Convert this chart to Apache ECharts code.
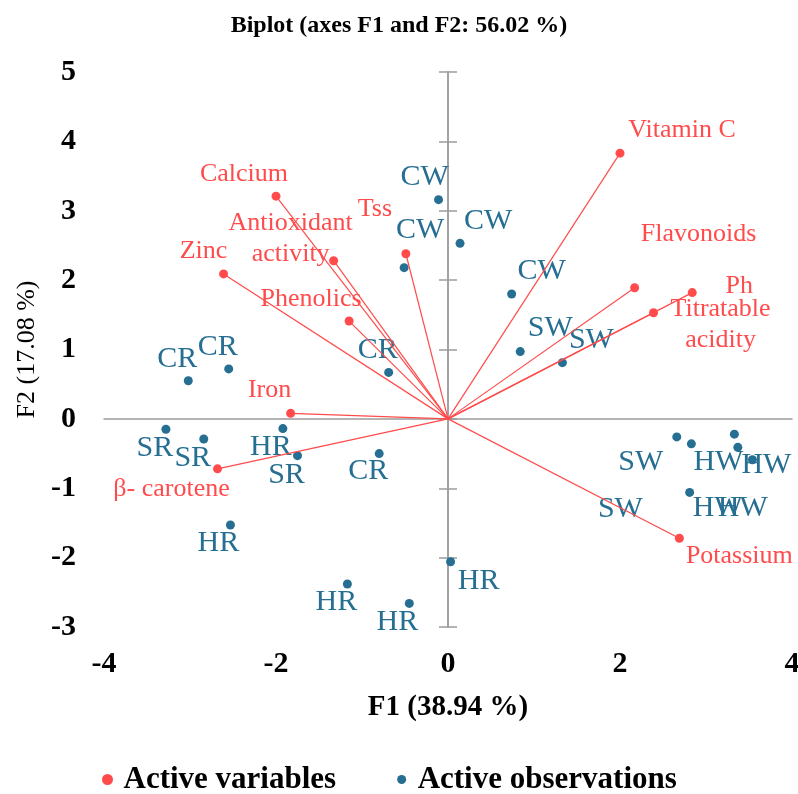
<html>
<head>
<meta charset="utf-8">
<script type="text/javascript" src="https://cdn.jsdelivr.net/npm/echarts@6.0.0/dist/echarts.min.js"></script>
<style type="text/css">
	body { margin: 0; }
	#biplot { width: 798px; height: 794px; }
</style>
<title>Biplot</title>
</head>
<body>
<div id="biplot"></div>
<script type="text/javascript">

// active variables (loadings scaled into F1/F2 space)
var varNames = ['Vitamin C', 'Flavonoids', 'Ph', 'Titratable\nacidity', 'Potassium', 'Calcium',
	'Antioxidant\nactivity', 'Tss', 'Phenolics', 'Zinc', 'Iron', 'β- carotene'];
var varF1 = [2.00, 2.17, 2.84, 2.39, 2.69, -2.00, -1.33, -0.49, -1.15, -2.61, -1.83, -2.68];
var varF2 = [3.83, 1.89, 1.82, 1.53, -1.72, 3.21, 2.28, 2.38, 1.41, 2.09, 0.08, -0.72];

// active observations
var obsNames = ['CR', 'CR', 'CR', 'SR', 'SR', 'HR', 'SR', 'CR', 'HR', 'HR', 'HR', 'HR',
	'CW', 'CW', 'CW', 'CW', 'SW', 'SW', 'SW', 'SW', 'HW', 'HW', 'HW', 'HW'];
var obsF1 = [-3.02, -2.55, -0.69, -3.28, -2.84, -1.92, -1.75, -0.80, -2.53, -1.17, -0.45, 0.03,
	-0.11, 0.14, -0.51, 0.74, 0.84, 1.33, 2.66, 2.83, 3.33, 3.37, 3.54, 2.81];
var obsF2 = [0.55, 0.72, 0.67, -0.15, -0.29, -0.14, -0.53, -0.50, -1.53, -2.38, -2.66, -2.06,
	3.16, 2.53, 2.18, 1.80, 0.97, 0.81, -0.26, -0.36, -0.22, -0.41, -0.59, -1.06];

// label placement (pixels from the point), layout only
var varLabelOffset = [[62, -23], [64, -54], [47, -6], [67, 12], [60, 18], [-32, -22],
	[-43, -22], [-31, -45], [-38, -22], [-20, -23], [-21, -23], [-46, 20]];
var obsLabelOffset = [[-11, -22], [-11, -22], [-11, -22], [-11, 19], [-11, 19], [-12, 19],
	[-11, 19], [-11, 18], [-12, 18], [-11, 18], [-12, 19], [28, 19],
	[-14, -23], [28, -22], [16, -38], [30, -23], [30, -23], [29, -23],
	[-36, 25], [-71, 65], [-16, 28], [5, 61], [14, 5], [28, 16]];

var RED = '#ff4b4b';
var BLUE = '#266f93';
var AXIS = '#9c9c9c';
var SERIF = 'Liberation Serif';

function showBiplot() {
	let varData = [];
	let varLines = [];
	for (let i = 0; i < varNames.length; i++) {
		varData.push({
			name: varNames[i],
			value: [varF1[i], varF2[i]],
			label: { offset: varLabelOffset[i] }
		});
		varLines.push({ coords: [[0, 0], [varF1[i], varF2[i]]] });
	}
	let obsData = [];
	for (let i = 0; i < obsNames.length; i++) {
		obsData.push({
			name: obsNames[i],
			value: [obsF1[i], obsF2[i]],
			label: { offset: obsLabelOffset[i] }
		});
	}

	let option = {
		animation: false,
		title: {
			text: 'Biplot (axes F1 and F2: 56.02 %)',
			left: 'center',
			top: 14,
			padding: 0,
			textStyle: { fontFamily: SERIF, fontWeight: 'bold', fontSize: 24, color: '#000' }
		},
		legend: {
			left: 102,
			top: 764,
			padding: 0,
			itemWidth: 22,
			itemHeight: 9,
			itemGap: 61,
			data: [
				{ name: 'Active variables', icon: 'circle' },
				{ name: 'Active observations', icon: 'circle' }
			],
			textStyle: { fontFamily: SERIF, fontWeight: 'bold', fontSize: 31, color: '#000' }
		},
		grid: {
			left: 104, right: 6, top: 72, bottom: 167,
			containLabel: false,
			outerBoundsMode: 'none'
		},
		xAxis: [
			{
				type: 'value', min: -4, max: 4, interval: 2,
				axisLine: { show: false }, axisTick: { show: false }, splitLine: { show: false },
				axisLabel: { margin: 22, fontFamily: SERIF, fontWeight: 'bold', fontSize: 30, color: '#000' },
				name: 'F1 (38.94 %)', nameLocation: 'middle', nameGap: 66,
				nameTextStyle: { fontFamily: SERIF, fontWeight: 'bold', fontSize: 29, color: '#000' }
			},
			{
				type: 'value', min: -4, max: 4, interval: 2, position: 'bottom',
				axisLine: { show: true, onZero: true, onZeroAxisIndex: 0, lineStyle: { color: AXIS, width: 1.5 } },
				axisTick: { show: false }, axisLabel: { show: false }, splitLine: { show: false }
			}
		],
		yAxis: [
			{
				type: 'value', min: -3, max: 5, interval: 1,
				axisLine: { show: false }, axisTick: { show: false }, splitLine: { show: false },
				axisLabel: { margin: 28, fontFamily: SERIF, fontWeight: 'bold', fontSize: 30, color: '#000' },
				name: 'F2 (17.08 %)', nameLocation: 'middle', nameGap: 63, nameRotate: 90,
				nameTextStyle: { fontFamily: SERIF, fontSize: 26, color: '#000' }
			},
			{
				type: 'value', min: -3, max: 5, interval: 1, position: 'left',
				axisLine: { show: true, onZero: true, onZeroAxisIndex: 0, lineStyle: { color: AXIS, width: 1.5 } },
				axisTick: { show: true, inside: true, length: 9, lineStyle: { color: AXIS, width: 1.5 } },
				axisLabel: { show: false }, splitLine: { show: false }
			},
			{
				type: 'value', min: -3, max: 5, interval: 1, position: 'left',
				axisLine: { show: true, onZero: true, onZeroAxisIndex: 0, lineStyle: { color: AXIS, width: 1.5 } },
				axisTick: { show: true, inside: false, length: 9, lineStyle: { color: AXIS, width: 1.5 } },
				axisLabel: { show: false }, splitLine: { show: false }
			}
		],
		series: [
			{
				name: 'Active observations',
				type: 'scatter',
				z: 2,
				symbol: 'circle',
				symbolSize: 9,
				itemStyle: { color: BLUE, opacity: 1 },
				label: {
					show: true, position: 'inside', formatter: '{b}',
					fontFamily: SERIF, fontSize: 30, color: BLUE
				},
				data: obsData
			},
			{
				name: 'Active variables',
				type: 'lines',
				coordinateSystem: 'cartesian2d',
				z: 3,
				silent: true,
				lineStyle: { color: RED, width: 1.2, opacity: 1 },
				data: varLines
			},
			{
				name: 'Active variables',
				type: 'scatter',
				z: 4,
				symbol: 'circle',
				symbolSize: 9,
				itemStyle: { color: RED, opacity: 1 },
				label: {
					show: true, position: 'inside', formatter: '{b}',
					fontFamily: SERIF, fontSize: 26, lineHeight: 31, align: 'center', color: RED
				},
				data: varData
			}
		]
	};

	var myChart = echarts.init(document.getElementById('biplot'));
	myChart.setOption(option);
}

showBiplot();
</script>
</body>
</html>
